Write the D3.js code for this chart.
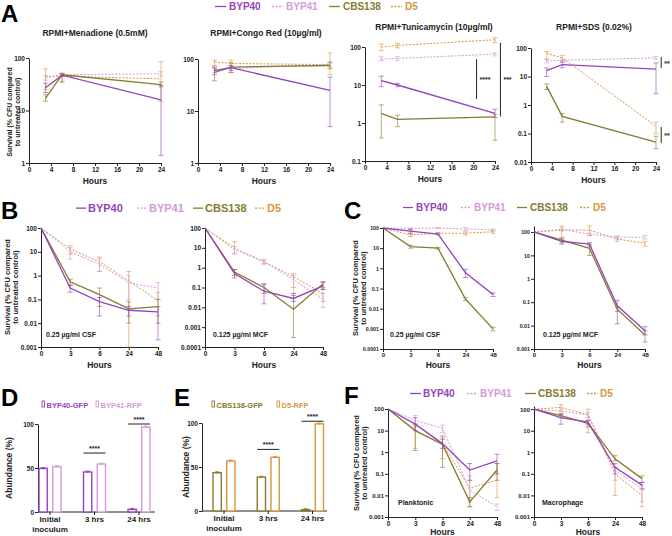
<!DOCTYPE html>
<html><head><meta charset="utf-8">
<script src="https://cdn.jsdelivr.net/npm/d3@7"></script>
<style>
body{margin:0;background:#fff;}
svg{display:block;font-family:"Liberation Sans",Arial,sans-serif;font-weight:bold;}
</style></head><body>
<svg id="fig" width="672" height="536"></svg>
<script>
// ---------- data ----------
const strains = ["BYP40","BYP41","CBS138","D5"];
const hoursA = [3, 6, 24];
const hoursAxisA = [0, 4, 8, 12, 16, 20, 24];
const hoursCat = ["0", "3", "6", "24", "48"];

// Panel A
const menadione = {BYP40:[27,47,16], BYP41:[42,48,50], CBS138:[17,48,31], D5:[45,45,40]};
const menadioneErr = {BYP40:[[22,33],[44,50],[1.4,30]], BYP41:[[38,46],[45,52],[45,55]], CBS138:[[15,20],[35,50],[28,35]], D5:[[25,62],[35,50],[15,85]]};
const congoRed = {BYP40:[60,68,25], BYP41:[62,65,80], CBS138:[55,70,75], D5:[88,82,78]};
const congoRedErr = {BYP40:[[50,70],[60,75],[5,45]], BYP41:[[55,70],[55,75],[70,90]], CBS138:[[38,65],[55,85],[65,85]], D5:[[75,95],[70,95],[50,130]]};
const tunicamycin = {BYP40:[13,10,1.8], BYP41:[48,50,65], CBS138:[1.8,1.25,1.45], D5:[100,110,155]};
const tunicamycinErr = {BYP40:[[9,17],[9,11],[1.4,2.3]], BYP41:[[44,55],[44,56],[58,70]], CBS138:[[0.4,3],[0.8,1.6],[0.35,1.7]], D5:[[80,120],[95,125],[130,175]]};
const sds = {BYP40:[16,26,18], BYP41:[35,37,45], CBS138:[4.5,0.4,0.05], D5:[65,45,0.18]};
const sdsErr = {BYP40:[[10,20],[20,32],[2.5,30]], BYP41:[[30,40],[33,40],[40,50]], CBS138:[[3.5,5.5],[0.25,0.5],[0.03,0.08]], D5:[[40,75],[35,55],[0.1,0.25]]};
const sigTunicamycin = [{x:20.6, lo:4.3, hi:48, label:"****"}, {x:25.0, lo:1.5, hi:130, label:"***"}];
const sigSds = [{x:25.0, lo:20, hi:48, label:"**"}, {x:25.0, lo:0.047, hi:0.17, label:"**"}];

// Panel B
const csfB = {BYP40:[100,0.3,0.08,0.035,0.03], BYP41:[100,10,3,0.5,0.3], CBS138:[100,0.55,0.16,0.04,0.05], D5:[100,13,3.8,0.6,0.09]};
const csfBErr = {BYP40:[null,[0.2,0.4],[0.02,0.12],[0.02,0.05],[0.002,0.05]], BYP41:[null,[5,15],[1.5,5],[0.1,1],[0.1,0.5]], CBS138:[null,[0.4,0.7],[0.05,0.3],[0.01,0.08],[0.01,0.1]], D5:[null,[8,18],[1.5,6],[0.001,1.5],[0.02,0.2]]};
const mcfB = {BYP40:[100,0.5,0.065,0.028,0.12], BYP41:[100,8,2,0.25,0.025], CBS138:[100,0.6,0.1,0.008,0.15], D5:[100,10,2,0.35,0.05]};
const mcfBErr = {BYP40:[null,[0.3,0.8],[0.015,0.15],[0.02,0.04],[0.08,0.18]], BYP41:[null,[5,12],[1.6,2.5],[0.05,0.4],[0.01,0.05]], CBS138:[null,[0.4,0.8],[0.05,0.15],[0.0003,0.05],[0.08,0.2]], D5:[null,[5,20],[1.5,2.5],[0.1,0.5],[0.02,0.1]]};

// Panel C
const csfC = {BYP40:[100,70,50,0.6,0.05], BYP41:[100,95,100,90,80], CBS138:[100,12,10,0.03,0.001], D5:[100,45,55,55,65]};
const csfCErr = {BYP40:[null,[55,85],[45,55],[0.35,0.9],[0.04,0.06]], BYP41:[null,[90,100],[95,105],[75,105],[70,90]], CBS138:[null,[10,14],[9,11],[0.025,0.035],[0.0008,0.0012]], D5:[null,[38,52],[50,60],[45,65],[55,75]]};
const mcfC = {BYP40:[100,40,30,0.07,0.006], BYP41:[100,130,80,60,60], CBS138:[100,45,20,0.05,0.004], D5:[100,120,120,50,33]};
const mcfCErr = {BYP40:[null,[30,50],[25,35],[0.012,0.12],[0.004,0.009]], BYP41:[null,[110,150],[70,90],[50,70],[50,70]], CBS138:[null,[35,55],[10,30],[0.04,0.06],[0.002,0.006]], D5:[null,[60,180],[70,180],[40,60],[25,40]]};

// Panel D / E
const groupsDE = ["Initial inoculum", "3 hrs", "24 hrs"];
const abundBYP40 = [49.5, 45.5, 3];
const abundBYP41 = [51.5, 54.5, 96.5];
const abundCBS138 = [43.5, 38.5, 1.5];
const abundD5 = [56.8, 61, 99];
const abundErr = [1, 1, 1];

// Panel F
const planktonic = {BYP40:[100,20,2.5,0.15,0.4], BYP41:[100,30,13,0.018,0.003], CBS138:[100,10,2.3,0.005,0.15], D5:[100,10,2.5,0.022,0.05]};
const planktonicErr = {BYP40:[null,[10,40],[1.5,4],[0.05,0.3],[0.1,0.8]], BYP41:[null,[15,50],[8,18],[0.005,0.08],[0.002,0.004]], CBS138:[null,[1.2,20],[0.2,5],[0.003,0.008],[0.05,0.3]], D5:[null,[1.5,20],[0.5,6],[0.003,0.05],[0.008,0.3]]};
const macrophage = {BYP40:[100,40,25,0.2,0.03], BYP41:[100,80,55,0.15,0.02], CBS138:[100,50,22,0.5,0.06], D5:[100,120,55,0.1,0.01]};
const macrophageErr = {BYP40:[null,[20,60],[20,30],[0.1,0.3],[0.02,0.04]], BYP41:[null,[60,100],[40,70],[0.05,0.2],[0.005,0.03]], CBS138:[null,[40,60],[15,30],[0.4,0.7],[0.04,0.08]], D5:[null,[80,160],[8,100],[0.01,0.2],[0.003,0.02]]};

// ---------- styles ----------
const colors = {BYP40:"#9443bb", BYP41:"#d49ad9", CBS138:"#867b2e", D5:"#d8963e"};
const dashed = {BYP40:null, BYP41:"2,1.5", CBS138:null, D5:"2,1.5"};
const ink = "#222";
const svg = d3.select("#fig");

function styleAxis(sel, fs) {
  sel.attr("font-size", null).attr("font-family", null);
  sel.selectAll("text").attr("font-size", fs).attr("fill", ink);
  sel.selectAll("line,path").attr("stroke", ink).attr("stroke-width", 1);
}

function lineChart(cfg) {
  const g = svg.append("g");
  const x = cfg.cat
    ? d3.scalePoint().domain(hoursCat).range([cfg.x0, cfg.x1])
    : d3.scaleLinear().domain([0, 24]).range([cfg.x0, cfg.x1]);
  const y = d3.scaleLog().domain([cfg.yMin, cfg.yMax]).range([cfg.yBot, cfg.yTop]);
  const ticks = [];
  for (let e = Math.round(Math.log10(cfg.yMin)); e <= 2; e++) ticks.push(+Math.pow(10, e).toPrecision(1));
  const ya = g.append("g").attr("transform", `translate(${cfg.x0},0)`)
    .call(d3.axisLeft(y).tickValues(ticks).tickFormat(d => String(d)).tickSize(3).tickSizeOuter(0).tickPadding(1));
  styleAxis(ya, cfg.tfy || 6.5);
  const xa = g.append("g").attr("transform", `translate(0,${cfg.yBot})`)
    .call(d3.axisBottom(x).tickValues(cfg.cat ? hoursCat : hoursAxisA).tickSize(3).tickSizeOuter(0).tickPadding(1));
  styleAxis(xa, cfg.tfx || 6.5);
  g.append("text").attr("x", (cfg.x0 + cfg.x1) / 2).attr("y", cfg.hoursY).attr("text-anchor", "middle")
    .attr("font-size", 8.5).attr("fill", ink).text("Hours");
  if (cfg.title) g.append("text").attr("x", cfg.titleX).attr("y", cfg.titleY).attr("text-anchor", "middle")
    .attr("font-size", 8.5).attr("fill", ink).text(cfg.title);
  if (cfg.note) g.append("text").attr("x", cfg.noteX).attr("y", cfg.noteY)
    .attr("font-size", 7).attr("fill", ink).text(cfg.note);
  const xs = cfg.cat ? hoursCat : hoursA;
  const order = ["D5", "BYP41", "CBS138", "BYP40"];
  order.forEach(s => {
    cfg.err[s].forEach((e, i) => {
      if (!e) return;
      const cx = x(xs[i]);
      const eg = g.append("g").attr("stroke", colors[s]).attr("stroke-opacity", 0.6).attr("stroke-width", 1);
      eg.append("line").attr("x1", cx).attr("x2", cx).attr("y1", y(e[0])).attr("y2", y(e[1]));
      [e[0], e[1]].forEach(v => eg.append("line").attr("x1", cx - 2.5).attr("x2", cx + 2.5).attr("y1", y(v)).attr("y2", y(v)));
    });
  });
  const line = d3.line().x((d, i) => x(xs[i])).y(d => y(d));
  order.forEach(s => {
    g.append("path").datum(cfg.data[s]).attr("d", line).attr("fill", "none")
      .attr("stroke", colors[s]).attr("stroke-width", dashed[s] ? 1 : 1.3)
      .attr("stroke-dasharray", dashed[s]);
  });
  (cfg.sig || []).forEach(sg => {
    const sx = x(sg.x);
    g.append("line").attr("x1", sx).attr("x2", sx).attr("y1", y(sg.lo)).attr("y2", y(sg.hi)).attr("stroke", ink).attr("stroke-width", 1);
    g.append("text").attr("x", sx + 3).attr("y", (y(sg.lo) + y(sg.hi)) / 2 + 3).attr("font-size", 7).attr("fill", ink).text(sg.label);
  });
  return g;
}

function yLabel(x, y, fs, lines) {
  const t = svg.append("text").attr("transform", `translate(${x},${y}) rotate(-90)`)
    .attr("text-anchor", "middle").attr("font-size", fs).attr("fill", ink);
  lines.forEach((l, i) => t.append("tspan").attr("x", 0).attr("dy", i === 0 ? 0 : fs * 1.1).text(l));
}

function legend(xs, y, fs, off, len) {
  strains.forEach((s, i) => {
    svg.append("line").attr("x1", xs[i]).attr("x2", xs[i] + len).attr("y1", y - fs * 0.35).attr("y2", y - fs * 0.35)
      .attr("stroke", colors[s]).attr("stroke-width", 1.3).attr("stroke-dasharray", dashed[s]);
    svg.append("text").attr("x", xs[i] + off).attr("y", y).attr("font-size", fs).attr("fill", colors[s]).text(s);
  });
}

function panelLetter(t, x, y) {
  svg.append("text").attr("x", x).attr("y", y).attr("font-size", 24).attr("fill", "#000").text(t);
}

// ---------- Panel A ----------
panelLetter("A", 1, 22);
legend([215, 272, 329, 391], 10, 10, 14, 11);
lineChart({x0:29, x1:161, yTop:58, yBot:163, yMin:1, yMax:100, data:menadione, err:menadioneErr,
  title:"RPMI+Menadione (0.5mM)", titleX:95, titleY:36, hoursY:184});
lineChart({x0:198, x1:330, yTop:59, yBot:163, yMin:1, yMax:100, data:congoRed, err:congoRedErr,
  title:"RPMI+Congo Red (10µg/ml)", titleX:266, titleY:36, hoursY:184});
lineChart({x0:365, x1:495, yTop:47, yBot:161, yMin:0.1, yMax:100, data:tunicamycin, err:tunicamycinErr,
  title:"RPMI+Tunicamycin (10µg/ml)", titleX:434, titleY:30, hoursY:182, sig:sigTunicamycin});
lineChart({x0:531, x1:656, yTop:48, yBot:162, yMin:0.01, yMax:100, data:sds, err:sdsErr,
  title:"RPMI+SDS (0.02%)", titleX:594, titleY:30, hoursY:183, sig:sigSds});
yLabel(12, 112, 7, ["Survival (% CFU compared", "to untreated control)"]);

// ---------- Panel B ----------
panelLetter("B", 1, 219);
legend([76, 137, 193, 255], 212, 11, 12, 10);
lineChart({cat:true, x0:41, x1:158, yTop:228, yBot:347, yMin:0.001, yMax:100, data:csfB, err:csfBErr,
  note:"0.25 µg/ml CSF", noteX:46, noteY:337, hoursY:368});
lineChart({cat:true, x0:205, x1:323, yTop:228, yBot:347, yMin:0.0001, yMax:100, data:mcfB, err:mcfBErr,
  note:"0.125 µg/ml MCF", noteX:213, noteY:337, hoursY:368});
yLabel(10, 287, 7.5, ["Survival (% CFU compared", "to untreated control)"]);

// ---------- Panel C ----------
panelLetter("C", 344, 219);
legend([403, 461, 517, 580], 211, 10, 13, 10);
lineChart({cat:true, x0:383, x1:493, yTop:228, yBot:349, yMin:0.0001, yMax:100, data:csfC, err:csfCErr,
  note:"0.25 µg/ml CSF", noteX:390, noteY:337, hoursY:368, tfy:5.3, tfx:6});
lineChart({cat:true, x0:534, x1:645, yTop:226, yBot:349, yMin:0.001, yMax:180, data:mcfC, err:mcfCErr,
  note:"0.125 µg/ml MCF", noteX:543, noteY:337, hoursY:368, tfy:5.3, tfx:6});
yLabel(358, 288, 7.5, ["Survival (% CFU compared", "to untreated control)"]);

// ---------- Panels D / E ----------
function barChart(cfg) {
  const g = svg.append("g");
  const x = d3.scalePoint().domain(groupsDE).range([cfg.gx0, cfg.gx1]).padding(0.5);
  const sub = d3.scaleBand().domain([0, 1]).range([-11, 11]).paddingInner(0.4);
  const y = d3.scaleLinear().domain([0, 100]).range([cfg.yBot, cfg.yTop]);
  const ya = g.append("g").attr("transform", `translate(${cfg.ax},0)`)
    .call(d3.axisLeft(y).tickValues([0, 50, 100]).tickSize(3).tickSizeOuter(0).tickPadding(1));
  styleAxis(ya, 6.5);
  g.append("line").attr("x1", cfg.ax).attr("x2", cfg.axEnd).attr("y1", cfg.yBot).attr("y2", cfg.yBot).attr("stroke", ink);
  groupsDE.forEach(gr => {
    g.append("line").attr("x1", x(gr)).attr("x2", x(gr)).attr("y1", cfg.yBot).attr("y2", cfg.yBot + 3).attr("stroke", ink);
    const words = gr === "Initial inoculum" ? ["Initial", "inoculum"] : [gr];
    words.forEach((w, i) => g.append("text").attr("x", x(gr)).attr("y", cfg.yBot + 10 + i * 10)
      .attr("text-anchor", "middle").attr("font-size", 8).attr("fill", ink).text(w));
  });
  [cfg.a, cfg.b].forEach((vals, k) => {
    const col = colors[cfg.keys[k]];
    vals.forEach((v, i) => {
      const bx = x(groupsDE[i]) + sub(k);
      g.append("rect").attr("x", bx).attr("y", y(v)).attr("width", sub.bandwidth()).attr("height", y(0) - y(v))
        .attr("fill", "#fff").attr("stroke", col).attr("stroke-width", 1.4);
      const cx = bx + sub.bandwidth() / 2;
      const eg = g.append("g").attr("stroke", col).attr("stroke-width", 1);
      eg.append("line").attr("x1", cx).attr("x2", cx).attr("y1", y(v - abundErr[i])).attr("y2", y(v + abundErr[i]));
      eg.append("line").attr("x1", cx - 2).attr("x2", cx + 2).attr("y1", y(v + abundErr[i])).attr("y2", y(v + abundErr[i]));
    });
  });
  cfg.sig.forEach(sg => {
    const cx = x(groupsDE[sg.g]);
    g.append("line").attr("x1", cx - 11).attr("x2", cx + 11).attr("y1", y(sg.v)).attr("y2", y(sg.v)).attr("stroke", ink);
    g.append("text").attr("x", cx).attr("y", y(sg.v) - 2).attr("text-anchor", "middle").attr("font-size", 7).attr("fill", ink).text("****");
  });
  cfg.legendX.forEach((lx, k) => {
    const col = colors[cfg.keys[k]];
    g.append("rect").attr("x", lx).attr("y", 401).attr("width", 2.5).attr("height", 6).attr("fill", "#fff").attr("stroke", col).attr("stroke-width", 0.9);
    g.append("text").attr("x", lx + 4.5).attr("y", 407.5).attr("font-size", 7.5).attr("fill", col).text(cfg.labels[k]);
  });
  yLabel(cfg.ylx, (cfg.yTop + cfg.yBot) / 2, 8.5, ["Abundance (%)"]);
}

panelLetter("D", 1, 406);
barChart({gx0:27.75, gx1:161.25, ax:38, axEnd:155, yTop:424, yBot:512, a:abundBYP40, b:abundBYP41,
  keys:["BYP40","BYP41"], labels:["BYP40-GFP","BYP41-RFP"], legendX:[42, 96], ylx:12,
  sig:[{g:1, v:67}, {g:2, v:100}]});
panelLetter("E", 174, 406);
barChart({gx0:201.9, gx1:334.6, ax:202, axEnd:327, yTop:423, yBot:511, a:abundCBS138, b:abundD5,
  keys:["CBS138","D5"], labels:["CBS138-GFP","D5-RFP"], legendX:[212, 277], ylx:189,
  sig:[{g:1, v:70}, {g:2, v:102}]});

// ---------- Panel F ----------
panelLetter("F", 344, 404);
legend([410, 467, 525, 587], 397, 10, 13, 11);
lineChart({cat:true, x0:388, x1:497, yTop:409, yBot:517, yMin:0.001, yMax:100, data:planktonic, err:planktonicErr,
  note:"Planktonic", noteX:398, noteY:505, hoursY:535, tfy:6, tfx:6.5});
lineChart({cat:true, x0:534, x1:642, yTop:406, yBot:517, yMin:0.001, yMax:140, data:macrophage, err:macrophageErr,
  note:"Macrophage", noteX:542, noteY:505, hoursY:535, tfy:6, tfx:6.5});
yLabel(359, 463, 7.5, ["Survival (% CFU compared", "to untreated control)"]);
</script>
</body></html>
